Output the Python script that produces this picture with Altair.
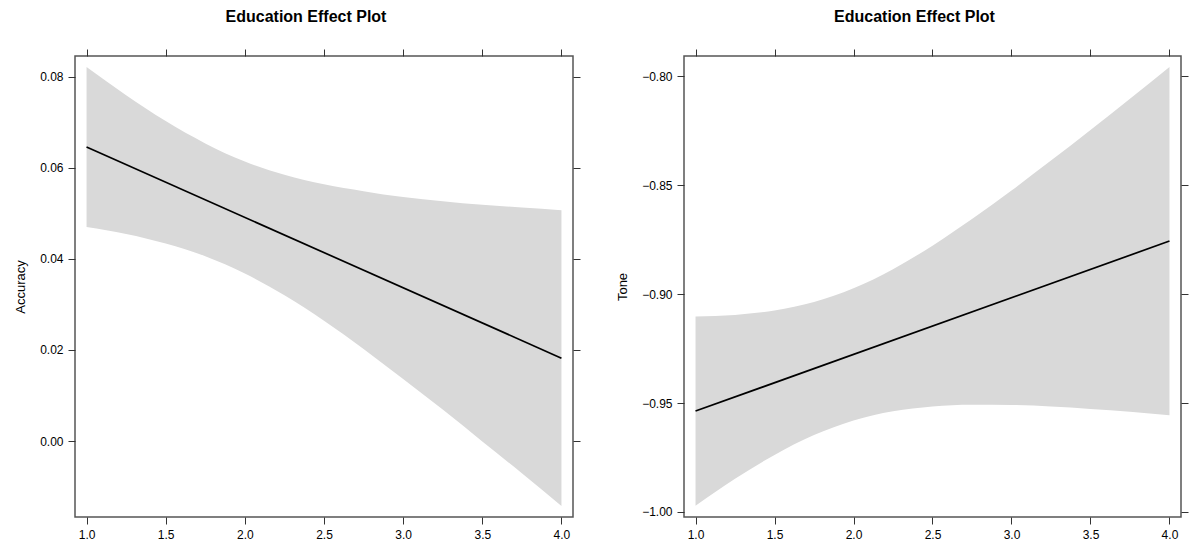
import altair as alt
import pandas as pd

# ---- data ----
x_grid = [1.0, 1.25, 1.5, 1.75, 2.0, 2.25, 2.5, 2.75, 3.0, 3.25, 3.5, 3.75, 4.0]

acc_upper = [0.0822, 0.0760, 0.0703, 0.0654, 0.0614, 0.0585, 0.0564, 0.0549, 0.0536, 0.0527, 0.0519, 0.0513, 0.0507]
acc_lower = [0.0470, 0.0455, 0.0434, 0.0406, 0.0368, 0.0320, 0.0264, 0.0202, 0.0136, 0.0069, -0.0001, -0.0071, -0.0143]
acc_line_x = [1.0, 4.0]
acc_line_y = [0.0646, 0.0182]

tone_upper = [-0.9103, -0.9096, -0.9076, -0.9037, -0.8974, -0.8886, -0.8778, -0.8656, -0.8525, -0.8388, -0.8247, -0.8104, -0.7958]
tone_lower = [-0.9971, -0.9848, -0.9738, -0.9647, -0.9580, -0.9538, -0.9516, -0.9508, -0.9509, -0.9516, -0.9527, -0.9540, -0.9556]
tone_line_x = [1.0, 4.0]
tone_line_y = [-0.9537, -0.8757]

x_ticks = [1.0, 1.5, 2.0, 2.5, 3.0, 3.5, 4.0]
acc_ticks = [0.00, 0.02, 0.04, 0.06, 0.08]
tone_ticks = [-1.00, -0.95, -0.90, -0.85, -0.80]

title_text = "Education Effect Plot"
FONT = "Liberation Sans"

X_DOMAIN = [0.927, 4.073]


def panel(upper, lower, lx, ly, ytitle, ydomain, yticks, w, h):
    band_df = pd.DataFrame({"x": x_grid, "lo": lower, "hi": upper})
    line_df = pd.DataFrame({"x": lx, "v": ly})
    xs = alt.Scale(domain=X_DOMAIN, nice=False, zero=False)
    ys = alt.Scale(domain=ydomain, nice=False, zero=False)
    common = dict(grid=False, domain=False, tickColor="#333333", tickSize=7,
                  tickWidth=1, labelFont=FONT, labelFontSize=12, labelColor="#000000",
                  titleFont=FONT, titleFontSize=13, titleFontWeight="normal",
                  titleColor="#000000", labelPadding=5)
    band = alt.Chart(band_df).mark_area(color="#d9d9d9", opacity=1, interpolate="monotone").encode(
        x=alt.X("x:Q", scale=xs,
                axis=alt.Axis(orient="bottom", values=x_ticks, format=".1f", title=None, **common)),
        y=alt.Y("lo:Q", scale=ys,
                axis=alt.Axis(orient="left", values=yticks, format=".2f", title=ytitle,
                              titlePadding=12, **common)),
        y2="hi:Q",
    )
    line = alt.Chart(line_df).mark_line(color="#000000", strokeWidth=1.7).encode(
        x=alt.X("x:Q", scale=xs,
                axis=alt.Axis(orient="top", values=x_ticks, labels=False, title=None, **common)),
        y=alt.Y("v:Q", scale=ys,
                axis=alt.Axis(orient="right", values=yticks, labels=False, title=None, **common)),
    )
    return alt.layer(band, line).resolve_axis(x="independent", y="independent").properties(
        width=w, height=h,
        title=alt.TitleParams(title_text, font=FONT, fontSize=16, fontWeight="bold",
                              color="#000000", anchor="middle", offset=24, dx=-18),
    )


left = panel(acc_upper, acc_lower, acc_line_x, acc_line_y, "Accuracy",
             [-0.0167, 0.0846], acc_ticks, 498, 461)
right = panel(tone_upper, tone_lower, tone_line_x, tone_line_y, "Tone",
              [-1.0023, -0.7908], tone_ticks, 497, 461)

chart = alt.hconcat(left, right, spacing=33).properties(
    padding={"left": 13, "top": 7, "right": 0, "bottom": 0},
    background="white",
).configure_view(stroke="#555555", strokeWidth=1.5)

chart.save("out.html", embed_options={"renderer": "svg", "actions": False})
